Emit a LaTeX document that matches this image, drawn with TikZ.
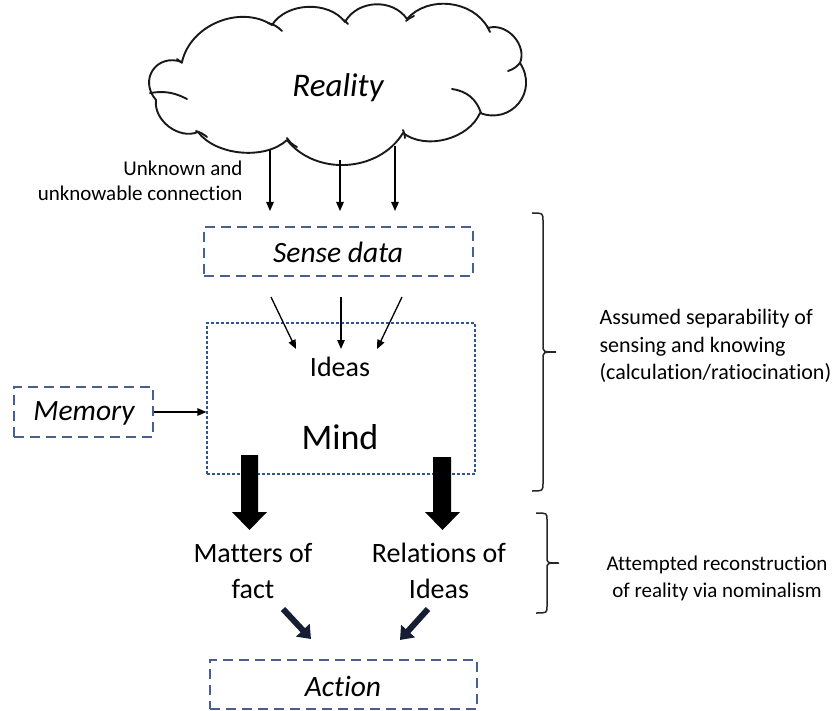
\documentclass[tikz,border=0pt]{standalone}
\usepackage{fontspec}
\setmainfont{Carlito}[Ligatures=NoCommon]
\usetikzlibrary{arrows.meta}
\definecolor{boxblue}{RGB}{72,96,145}
\definecolor{mindblue}{RGB}{47,85,151}
\definecolor{navyarrow}{RGB}{22,30,52}
\begin{document}
\begin{tikzpicture}[x=1pt,y=-1pt,
  thinarrow/.style={-{Triangle[length=9pt,width=7.5pt]}, line width=1.3pt},
  dbox/.style={draw=boxblue, dash pattern=on 10pt off 6pt, line width=1.5pt, inner sep=0pt},
  maintext/.style={font=\fontsize{28}{36}\selectfont},
  itext/.style={font=\fontsize{29.5}{34}\selectfont\itshape},
  sidetext/.style={font=\fontsize{22}{27.5}\selectfont},
  blockarrow/.style={fill=black},
  diagarrow/.style={line width=6pt, navyarrow, -{Triangle[length=12pt,width=18pt]}},
  bracestyle/.style={line width=1.5pt, black!85},
  cloudline/.style={line width=1.9pt, line join=round, line cap=round, black!90}
]
\useasboundingbox (0,0) rectangle (835,711);

% cloud outline (puffs)
\coordinate (j11) at (156,100);
\coordinate (j1) at (182,62);
\coordinate (j2) at (272,25);
\coordinate (j3) at (345,22);
\coordinate (j4) at (407,19);
\coordinate (j5) at (488,28);
\coordinate (j6) at (520,63);
\coordinate (j7) at (480,113);
\coordinate (j8) at (403,133);
\coordinate (j9) at (287,140);
\coordinate (j10) at (198,132);
\draw[cloudline]
  (j11) to[bend left=75, looseness=1.5] (j1)
        to[bend left=55, looseness=1.0] (j2)
        to[bend left=55, looseness=0.95] (j3)
        to[bend left=58, looseness=1.05] (j4)
        to[bend left=55, looseness=1.0] (j5)
        to[bend left=65, looseness=1.05] (j6)
        to[bend left=72, looseness=1.35] (j7)
        to[bend left=52, looseness=0.92] (j8)
        to[bend left=55, looseness=1.02] (j9)
        to[bend left=48, looseness=0.85] (j10)
        to[bend left=60, looseness=1.0] (j11);
% inner arcs of the cloud
\draw[cloudline] (150,93) to[bend left=18] (187,99);
\draw[cloudline] (268,23) to[bend left=15] (282,31);
\draw[cloudline] (452,89) to[bend left=32] (481,113);
\draw[cloudline] (287,138) to[bend right=15] (297,147);
\draw[cloudline] (196,131) to[bend left=10] (207,137);
\draw[cloudline] (508,71) to[bend right=15] (520,63);
\draw[cloudline] (177,59) to[bend left=10] (182,63);
\draw[cloudline] (403,130) to[bend left=10] (405,138);
\draw[cloudline] (487,26) to[bend left=10] (490,32);
\draw[cloudline] (406,21) to[bend left=10] (414,16);
\draw[cloudline] (344,20) to[bend left=10] (348,24);
\node[font=\fontsize{33}{38}\selectfont\itshape] (reality) at (338,88) {Reality};

% arrows from cloud
\coordinate (c1s) at (270,150); \coordinate (c1e) at (270,211);
\coordinate (c2s) at (340,160); \coordinate (c2e) at (340,211);
\coordinate (c3s) at (395,146); \coordinate (c3e) at (395,211);
\draw[thinarrow] (c1s) -- (c1e);
\draw[thinarrow] (c2s) -- (c2e);
\draw[thinarrow] (c3s) -- (c3e);
\node[align=right, anchor=east, font=\fontsize{21}{25}\selectfont] (unknown) at (246,181) {Unknown and\\unknowable connection};

% sense data
\node[dbox, minimum width=269pt, minimum height=49pt] (sense) at (338.5,251.5) {};
\node[itext] (sensetext) at (338,252) {Sense data};

% mind
\node[draw=mindblue, dash pattern=on 3pt off 2pt, line width=1.2pt, inner sep=0pt,
      minimum width=268pt, minimum height=151pt] (mind) at (341,398.5) {};
\node[maintext] (ideas) at (340,367) {Ideas};
\node[font=\fontsize{36}{40}\selectfont] (mindtext) at (340,437) {Mind};

% sense -> ideas
\coordinate (s1) at (271,297); \coordinate (i1) at (296,349);
\coordinate (s2) at (341,297); \coordinate (i2) at (341,349);
\coordinate (s3) at (402,297); \coordinate (i3) at (377,349);
\draw[thinarrow] (s1) -- (i1);
\draw[thinarrow] (s2) -- (i2);
\draw[thinarrow] (s3) -- (i3);

% memory
\node[dbox, minimum width=139pt, minimum height=50pt] (memory) at (83.5,412) {};
\node[itext] (memorytext) at (84,413) {Memory};
\draw[thinarrow] (memory.east) -- (mind.west |- memory.east);

% block arrows
\fill[blockarrow] (241,455) -- (258,455) -- (258,512) -- (267,512) -- (249.5,530) -- (232,512) -- (241,512) -- cycle;
\fill[blockarrow] (433,457) -- (451,457) -- (451,512) -- (460,512) -- (442.5,530) -- (425,512) -- (433,512) -- cycle;

% outputs
\node[maintext, align=center] (matters) at (253,571) {Matters of\\fact};
\node[maintext, align=center] (relations) at (439,571) {Relations of\\Ideas};

% diagonal arrows
\coordinate (d1s) at (283,609); \coordinate (d1e) at (311,639);
\coordinate (d2s) at (428,609); \coordinate (d2e) at (400,640);
\draw[diagarrow] (d1s) -- (d1e);
\draw[diagarrow] (d2s) -- (d2e);

% action
\node[dbox, minimum width=267pt, minimum height=49pt] (action) at (343.5,684.5) {};
\node[itext] (actiontext) at (343,686) {Action};

% braces
\draw[bracestyle] (532,213) .. controls (543,213) .. (543,221) -- (543,345)
   .. controls (543,352) .. (556,352) .. controls (543,352) .. (543,359) -- (543,483)
   .. controls (543,491) .. (532,491);
\draw[bracestyle] (536,513) .. controls (547,513) .. (547,520) -- (547,557)
   .. controls (547,563) .. (559,563) .. controls (547,563) .. (547,569) -- (547,606)
   .. controls (547,613) .. (536,613);

\node[sidetext, align=left, anchor=west] (assumed) at (596,346) {Assumed separability of\\sensing and knowing\\(calculation/ratiocination)};
\node[align=center, font=\fontsize{21}{27}\selectfont] (attempted) at (717,578) {Attempted reconstruction\\of reality via nominalism};
\end{tikzpicture}
\end{document}
